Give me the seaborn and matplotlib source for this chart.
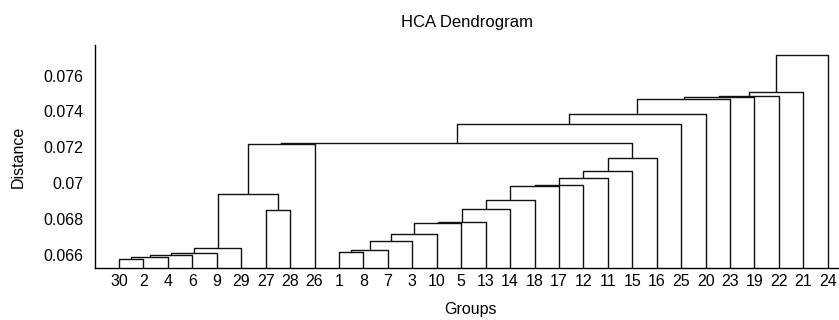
import matplotlib
matplotlib.use("Agg")
import matplotlib.pyplot as plt
import seaborn as sns
import pandas as pd
import numpy as np

# ---- data ----
leaf_order = [30, 2, 4, 6, 9, 29, 27, 28, 26, 1, 8, 7, 3, 10, 5, 13, 14, 18, 17,
              12, 11, 15, 16, 25, 20, 23, 19, 22, 21, 24]
# linkage: node id 31+i = merge of (child_a[i], child_b[i]) at height merge_h[i]
child_a = [30, 31, 32, 33, 34, 27, 35, 37, 1, 39, 40, 41, 42, 43, 44, 45, 46, 47,
           48, 49, 50, 38, 52, 53, 54, 55, 56, 57, 58]
child_b = [2, 4, 6, 9, 29, 28, 36, 26, 8, 7, 3, 10, 5, 13, 14, 18, 17, 12,
           11, 15, 16, 51, 25, 20, 23, 19, 22, 21, 24]
merge_h = [0.06580, 0.06591, 0.06598, 0.06609, 0.06639, 0.06851, 0.06942, 0.07218,
           0.06618, 0.06626, 0.06678, 0.06717, 0.06777, 0.06782, 0.06859, 0.06906,
           0.06986, 0.06992, 0.07027, 0.07068, 0.07139, 0.07226, 0.07328, 0.07388,
           0.07469, 0.07479, 0.07487, 0.07506, 0.07714]
ytick_vals = [0.066, 0.068, 0.070, 0.072, 0.074, 0.076]
ytick_labels = ["0.066", "0.068", "0.07", "0.072", "0.074", "0.076"]
title = "HCA Dendrogram"
xlabel = "Groups"
ylabel = "Distance"

# ---- build dendrogram segments from the linkage ----
n = len(leaf_order)
pos = {lab: i + 1 for i, lab in enumerate(leaf_order)}
hgt = {lab: 0.0 for lab in leaf_order}
rows = []
for i, (a, b, h) in enumerate(zip(child_a, child_b, merge_h)):
    node = n + 1 + i
    xa, xb = pos[a], pos[b]
    ya, yb = hgt[a], hgt[b]
    for x, y in [(xa, ya), (xa, h), (xb, h), (xb, yb)]:
        rows.append({"x": x, "y": y, "link": node})
    pos[node] = (xa + xb) / 2.0
    hgt[node] = h
df = pd.DataFrame(rows)

sns.set_style("white")
plt.rcParams["font.family"] = ["Liberation Sans", "DejaVu Sans"]
plt.rcParams["text.color"] = "black"
plt.rcParams["axes.labelcolor"] = "black"

W, H = 839, 320
fig = plt.figure(figsize=(W / 100, H / 100), dpi=100)
ax_left, ax_bottom, ax_top = 94.6, 268.3, 45.0
unit = 24.44
ax = fig.add_axes([ax_left / W, (H - ax_bottom) / H, (n + 1) * unit / W,
                   (ax_bottom - ax_top) / H])

sns.lineplot(data=df, x="x", y="y", units="link", estimator=None, sort=False,
             color="#111111", linewidth=1.0, ax=ax, legend=False)

ax.set_xlim(0, n + 1)
ax.set_ylim(0.065259, 0.0777)
ax.set_xticks(range(1, n + 1))
ax.set_xticklabels([str(v) for v in leaf_order])
ax.set_yticks(ytick_vals)
ax.set_yticklabels(ytick_labels)
ax.tick_params(axis="both", direction="in", length=5.5, width=0.8,
               labelsize=11.5, colors="black")
ax.tick_params(axis="x", pad=4)
ax.tick_params(axis="y", pad=8)
for s in ["top", "right"]:
    ax.spines[s].set_visible(False)
for s in ["left", "bottom"]:
    ax.spines[s].set_color("black")
    ax.spines[s].set_linewidth(1.0)
ax.grid(False)

ax.set_xlabel(xlabel, fontsize=11.5, color="black")
ax.set_ylabel(ylabel, fontsize=11.5, color="black")
ax.xaxis.set_label_coords((471 - ax_left) / ((n + 1) * unit),
                          -(302 - ax_bottom) / (ax_bottom - ax_top))
ax.yaxis.set_label_coords(-(ax_left - 26) / ((n + 1) * unit), 0.5)
fig.text(467 / W, (H - 27) / H, title, ha="center", va="baseline", fontsize=12,
         color="black")

fig.savefig("out.png", dpi=100)
